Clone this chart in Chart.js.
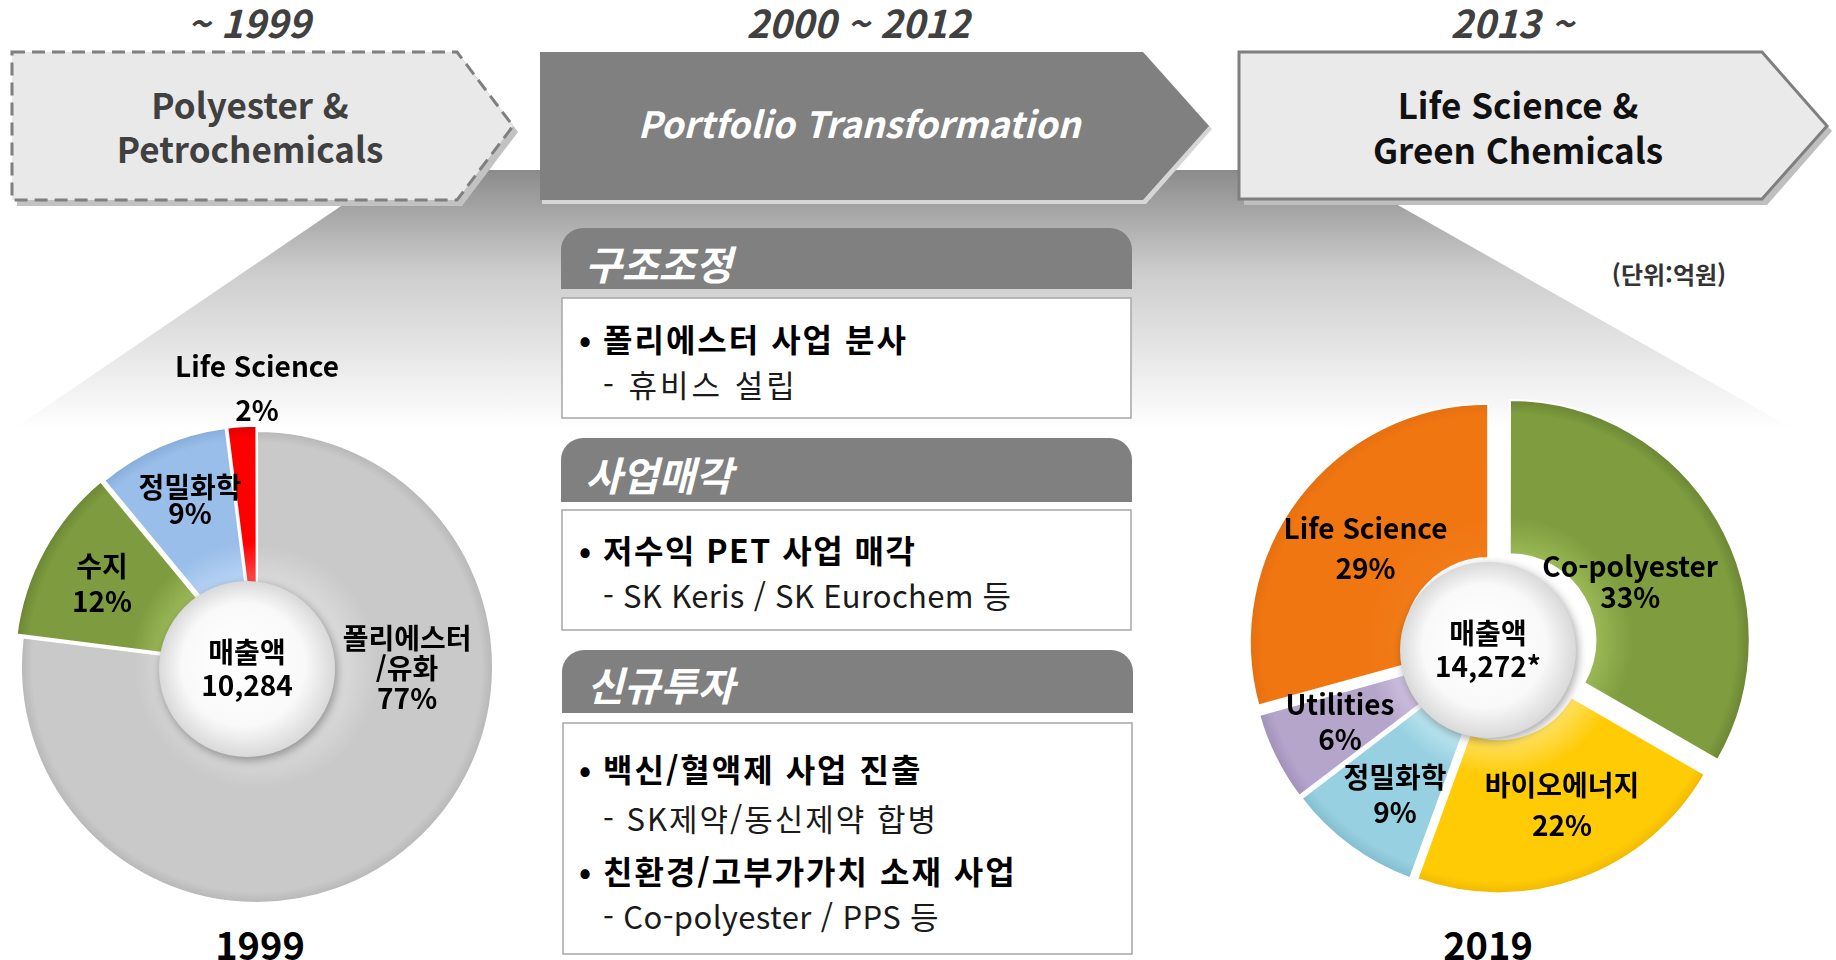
<!DOCTYPE html>
<html lang="ko">

<head>
    <meta charset="UTF-8">
    <title>Portfolio Transformation 1999 - 2019</title>
    <script src="https://cdn.jsdelivr.net/npm/chart.js"></script>
    <style>
        body {
            margin: 0;
            background: #fff;
            overflow: hidden;
        }

        .stage {
            position: relative;
            width: 1836px;
            height: 960px;
        }

        .stage svg,
        .stage canvas {
            position: absolute;
        }

        svg text {
            font-family: "Noto Sans CJK KR", "Noto Sans", sans-serif;
            dominant-baseline: central;
        }

        .era { font-size: 38px; font-weight: 700; font-style: italic; fill: #404040; text-anchor: middle; }
        .phase { font-size: 35px; font-weight: 700; text-anchor: middle; }
        .head { font-size: 40px; font-weight: 700; font-style: italic; fill: #fff; }
        .item { font-size: 32px; font-weight: 700; fill: #000; letter-spacing: 2px; }
        .dot { font-size: 32px; font-weight: 700; fill: #000; text-anchor: middle; }
        .sub { font-size: 31px; font-weight: 400; fill: #1a1a1a; letter-spacing: 1px; }
        .year { font-size: 38px; font-weight: 700; fill: #000; text-anchor: middle; }
    </style>
</head>

<body>
    <div class="stage">
        <svg width="1836" height="960" style="left:0;top:0">
            <defs>
                <linearGradient id="fan" gradientUnits="userSpaceOnUse" x1="0" y1="168" x2="0" y2="430">
                    <stop offset="0" stop-color="#8a8a8a" />
                    <stop offset="0.4" stop-color="#cdcdcd" />
                    <stop offset="1" stop-color="#ffffff" />
                </linearGradient>
            </defs>

            <!-- spotlight fan behind the arrows -->
            <polygon points="394,170 1336,170 1836,453 1836,470 0,470 0,438" fill="url(#fan)" />

            <!-- era arrows -->
            <path d="M17,58 H462 L518,132 L462,206 H17 Z" fill="#c2c2c2" />
            <path d="M12,52 H457 L513,126 L457,200 H12 Z" fill="#e9e9e9" stroke="#7f7f7f" stroke-width="3"
                stroke-dasharray="13 7" />
            <path d="M542,55 H1146 L1212,129 L1146,204 H542 Z" fill="#d6d6d6" />
            <path d="M540,52 H1143 L1209,126 L1143,200 H540 Z" fill="#808080" />
            <path d="M1244,58 H1767 L1832,131 L1767,205 H1244 Z" fill="#bfbfbf" />
            <path d="M1239,52 H1762 L1827,126 L1762,199 H1239 Z" fill="#eaeaea" stroke="#7f7f7f" stroke-width="3" />

            <text class="era" x="249" y="21">~ 1999</text>
            <text class="era" x="858" y="21">2000 ~ 2012</text>
            <text class="era" x="1512" y="21">2013 ~</text>

            <text class="phase" x="250" y="103" fill="#404040">Polyester &amp;</text>
            <text class="phase" x="250" y="147" fill="#404040">Petrochemicals</text>
            <text class="phase" x="859" y="122" fill="#fff" style="font-style:italic;font-size:36px">Portfolio Transformation</text>
            <text class="phase" x="1518" y="103" fill="#111">Life Science &amp;</text>
            <text class="phase" x="1518" y="148" fill="#111">Green Chemicals</text>

            <!-- middle column panels -->
            <path d="M561,289 V250 A22,22 0 0 1 583,228 H1110 A22,22 0 0 1 1132,250 V289 Z" fill="#808080" />
            <rect x="562" y="298" width="569" height="120" fill="#fff" stroke="#a6a6a6" stroke-width="1.5" />
            <path d="M561,502 V460 A22,22 0 0 1 583,438 H1110 A22,22 0 0 1 1132,460 V502 Z" fill="#808080" />
            <rect x="562" y="510" width="569" height="120" fill="#fff" stroke="#a6a6a6" stroke-width="1.5" />
            <path d="M562,713 V672 A22,22 0 0 1 584,650 H1111 A22,22 0 0 1 1133,672 V713 Z" fill="#808080" />
            <rect x="563" y="723" width="569" height="231" fill="#fff" stroke="#a6a6a6" stroke-width="1.5" />

            <text class="head" x="585" y="263">구조조정</text>
            <text class="dot" x="585" y="338">•</text>
            <text class="item" x="603" y="338">폴리에스터 사업 분사</text>
            <text class="sub" x="603" y="383" style="letter-spacing:3px">- 휴비스 설립</text>

            <text class="head" x="585" y="474">사업매각</text>
            <text class="dot" x="585" y="549">•</text>
            <text class="item" x="603" y="549" style="letter-spacing:1.5px">저수익 PET 사업 매각</text>
            <text class="sub" x="603" y="594" style="letter-spacing:0.3px">- SK Keris / SK Eurochem 등</text>

            <text class="head" x="587" y="684">신규투자</text>
            <text class="dot" x="585" y="768">•</text>
            <text class="item" x="603" y="768">백신/혈액제 사업 진출</text>
            <text class="sub" x="603" y="817" style="letter-spacing:2px">- SK제약/동신제약 합병</text>
            <text class="dot" x="585" y="870">•</text>
            <text class="item" x="603" y="870">친환경/고부가가치 소재 사업</text>
            <text class="sub" x="603" y="915" style="letter-spacing:0.4px">- Co-polyester / PPS 등</text>

            <text x="1669" y="273" text-anchor="middle" font-size="24" font-weight="700" fill="#333">(단위:억원)</text>

            <text class="year" x="260" y="943">1999</text>
            <text class="year" x="1488" y="943">2019</text>
        </svg>

        <canvas id="pie1999" width="514" height="620" style="left:0;top:330px"></canvas>
        <canvas id="pie2019" width="520" height="536" style="left:1236px;top:380px"></canvas>
    </div>

    <script>
        // 1999 sales mix
        const oldSegments = ['폴리에스터/유화', '수지', '정밀화학', 'Life Science'];
        const oldShares = [77, 12, 9, 2];
        const oldLabelLines = [['폴리에스터', '/유화'], ['수지'], ['정밀화학'], ['Life Science']];
        const oldTotal = '10,284';

        // 2019 sales mix
        const newSegments = ['Co-polyester', '바이오에너지', '정밀화학', 'Utilities', 'Life Science'];
        const newShares = [33, 22, 9, 6, 29];
        const newLabelLines = [['Co-polyester'], ['바이오에너지'], ['정밀화학'], ['Utilities'], ['Life Science']];
        const newTotal = '14,272*';

        const totalCaption = '매출액';

        // styling: [light, base, rim] per slice
        const oldColors = [
            ['#dcdcdc', '#c9c9c9', '#a5a5a5'],
            ['#a4c160', '#7e9b3f', '#5f772d'],
            ['#bcd6f6', '#99bee9', '#7a9fcf'],
            ['#ff5050', '#ff0000', '#c80000']
        ];
        const newColors = [
            ['#a0bd5a', '#7f9c3f', '#5f772d'],
            ['#ffe36b', '#ffcb05', '#e0a800'],
            ['#c8ecf5', '#97d0e0', '#74b2c4'],
            ['#d8cce8', '#b6a5cb', '#9483ad'],
            ['#f27c18', '#f07612', '#dc680c']
        ];
        // explode amounts (Chart.js arc offset units)
        const oldOffsets = [0, 21, 14, 11];
        const newOffsets = [63, 31, 22, 20, 39];

        // label anchor: [fraction along slice, fraction of radius, line gap]
        const oldLabelPlace = [[0.326, 0.636, 30], [0.486, 0.745, 35], [0.546, 0.762, 26], [1.0, 1.18, 44]];
        const newLabelPlace = [[0.532, 0.628, 31], [0.465, 0.716, 40], [0.443, 0.75, 35], [0.544, 0.726, 35], [0.501, 0.69, 40]];

        const FONT = '"Noto Sans CJK KR", "Noto Sans", sans-serif';

        function drawLines(ctx, lines, x, y, gap) {
            const top = y - (lines.length - 1) * gap / 2;
            lines.forEach((s, i) => ctx.fillText(s, x, top + i * gap));
        }

        function sliceFill(palette, inner, outer) {
            return (c) => {
                const area = c.chart.chartArea;
                const [light, base, rim] = palette[c.dataIndex];
                if (!area) return base;
                const cx = (area.left + area.right) / 2;
                const cy = (area.top + area.bottom) / 2;
                const g = c.chart.ctx.createRadialGradient(cx, cy, inner, cx, cy, outer + 12);
                g.addColorStop(0, light);
                g.addColorStop(0.25, base);
                g.addColorStop(0.86, base);
                g.addColorStop(1, rim);
                return g;
            };
        }

        const pieDecor = {
            id: 'pieDecor',
            afterDatasetsDraw(chart, args, opts) {
                const ctx = chart.ctx;
                const arcs = chart.getDatasetMeta(0).data;
                if (!arcs.length) return;
                const { x, y, outerRadius } = arcs[0].getProps(['x', 'y', 'outerRadius'], true);
                const hx = x + opts.hubShift[0];
                const hy = y + opts.hubShift[1];

                // white hub
                ctx.save();
                ctx.shadowColor = 'rgba(0,0,0,0.35)';
                ctx.shadowBlur = 10;
                ctx.shadowOffsetX = 2;
                ctx.shadowOffsetY = 3;
                const g = ctx.createRadialGradient(hx - 12, hy - 14, 0, hx, hy, opts.hub);
                g.addColorStop(0, '#ffffff');
                g.addColorStop(0.7, '#f9f9f9');
                g.addColorStop(1, '#d9d9d9');
                ctx.fillStyle = g;
                ctx.beginPath();
                ctx.arc(hx, hy, opts.hub, 0, Math.PI * 2);
                ctx.fill();
                ctx.restore();

                ctx.save();
                ctx.font = 'bold 28px ' + FONT;
                ctx.fillStyle = '#000';
                ctx.textAlign = 'center';
                ctx.textBaseline = 'middle';
                drawLines(ctx, [totalCaption, opts.total], hx, hy, 33);

                chart.data.datasets[0].data.forEach((v, i) => {
                    const p = arcs[i].getProps(['startAngle', 'endAngle'], true);
                    const [t, k, gap] = opts.place[i];
                    const a = p.startAngle + t * (p.endAngle - p.startAngle);
                    const r = k * outerRadius;
                    drawLines(ctx, [...opts.lines[i], v + '%'], x + Math.cos(a) * r, y + Math.sin(a) * r, gap);
                });
                ctx.restore();
            }
        };

        function makePie(id, labels, values, colors, offsets, radius, lines, place, total, padding, hubShift) {
            return new Chart(document.getElementById(id), {
                type: 'doughnut',
                data: {
                    labels: labels,
                    datasets: [{
                        data: values,
                        backgroundColor: sliceFill(colors, 80, radius),
                        borderColor: '#ffffff',
                        borderWidth: 2,
                        offset: offsets,
                        radius: radius,
                        cutout: 80
                    }]
                },
                options: {
                    responsive: false,
                    animation: false,
                    events: [],
                    layout: { padding: padding },
                    plugins: {
                        legend: { display: false },
                        tooltip: { enabled: false },
                        pieDecor: { hub: 88, hubShift: hubShift, lines: lines, place: place, total: total }
                    }
                },
                plugins: [pieDecor]
            });
        }

        makePie('pie1999', oldSegments, oldShares, oldColors, oldOffsets, 236,
            oldLabelLines, oldLabelPlace, oldTotal, { top: 60, bottom: 6 }, [-10, 2]);
        makePie('pie2019', newSegments, newShares, newColors, newOffsets, 238,
            newLabelLines, newLabelPlace, newTotal, 0, [-8, 2]);
    </script>

</body>

</html>
